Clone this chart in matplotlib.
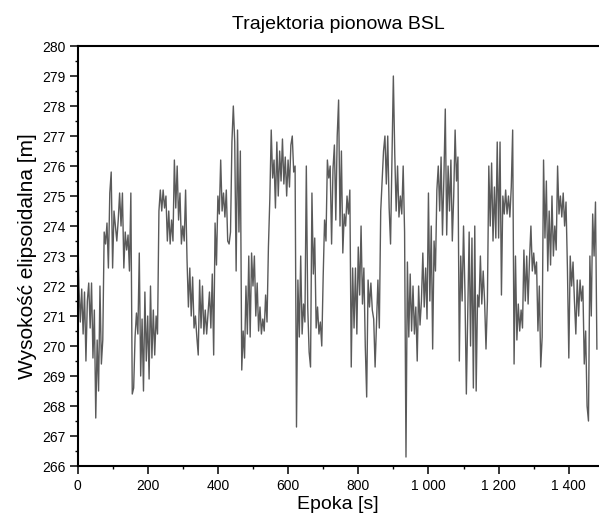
import numpy as np
import matplotlib
matplotlib.use("Agg")
import matplotlib.pyplot as plt
from matplotlib.ticker import MultipleLocator, FuncFormatter

plt.rcParams['font.family'] = ['Liberation Sans', 'DejaVu Sans']

# ── data: ellipsoidal height, one sample every 4 s ────────────────────────────
epoch_step = 4
h_0000 = [274.0, 272.0, 270.8, 271.9, 270.4, 271.8, 269.5, 271.5, 272.1, 270.6,
          272.1, 269.6, 271.2, 267.6, 270.2, 268.5, 272.0, 269.4, 270.2, 273.8,
          273.4, 274.1, 272.6, 275.1, 275.8]
h_0100 = [272.6, 274.5, 274.0, 273.5, 274.2, 275.1, 274.0, 275.1, 272.6, 273.8,
          273.2, 273.7, 272.5, 275.1, 268.4, 268.6, 270.3, 271.1, 270.4, 273.1,
          269.0, 270.9, 268.5, 271.8, 269.5]
h_0200 = [271.0, 268.9, 272.0, 269.6, 271.2, 269.7, 271.0, 270.4, 274.5, 275.2,
          274.5, 275.2, 274.6, 275.0, 273.5, 274.5, 273.4, 274.2, 273.5, 276.2,
          274.6, 276.0, 274.2, 275.1, 273.4]
h_0300 = [274.0, 273.5, 275.2, 272.9, 271.3, 272.6, 271.0, 272.3, 270.6, 271.0,
          270.3, 269.7, 272.2, 270.6, 272.0, 270.4, 271.2, 270.4, 271.1, 271.8,
          270.6, 272.4, 269.7, 274.1, 272.7]
h_0400 = [275.0, 274.4, 276.2, 274.5, 275.1, 274.3, 275.2, 273.5, 273.4, 273.8,
          276.8, 278.0, 276.8, 272.5, 277.2, 273.8, 276.5, 269.2, 270.5, 269.6,
          272.0, 270.4, 273.0, 270.3, 273.1]
h_0500 = [272.0, 273.0, 271.0, 272.1, 270.5, 271.3, 270.4, 270.9, 270.5, 271.7,
          270.8, 273.3, 274.9, 277.2, 275.6, 276.2, 274.6, 276.8, 275.0, 276.5,
          275.5, 276.9, 275.4, 276.3, 275.0]
h_0600 = [276.2, 275.3, 276.7, 277.0, 275.8, 276.0, 267.3, 272.2, 270.3, 273.0,
          270.4, 271.4, 270.8, 276.0, 271.3, 269.8, 269.3, 275.1, 272.4, 273.6,
          270.6, 271.3, 270.4, 270.8, 270.0]
h_0700 = [272.3, 274.2, 273.5, 276.2, 275.6, 276.0, 273.4, 275.9, 276.7, 274.2,
          277.0, 278.2, 274.0, 276.5, 273.1, 274.4, 274.0, 275.0, 274.4, 275.2,
          269.3, 272.6, 270.6, 272.6, 270.4]
h_0800 = [273.3, 271.7, 274.0, 271.4, 272.6, 270.0, 268.3, 272.2, 271.3, 272.1,
          271.2, 270.9, 269.3, 270.8, 272.2, 270.6, 274.5, 275.5, 276.5, 277.0,
          275.4, 277.0, 274.6, 273.4, 276.1]
h_0900 = [279.0, 276.4, 274.5, 276.0, 274.3, 275.0, 274.4, 276.0, 273.8, 266.3,
          272.8, 270.3, 272.4, 270.5, 272.0, 270.4, 271.3, 269.5, 272.0, 270.7,
          271.5, 273.1, 271.3, 272.6, 270.9]
h_1000 = [275.1, 271.5, 274.0, 269.9, 273.5, 272.5, 275.2, 276.0, 274.5, 276.3,
          273.7, 275.6, 277.9, 273.7, 276.0, 274.5, 276.2, 273.5, 275.0, 277.2,
          275.5, 276.3, 269.5, 273.0, 271.5]
h_1100 = [274.0, 271.8, 268.4, 271.0, 273.8, 270.0, 273.6, 268.6, 274.0, 268.5,
          271.7, 271.3, 273.0, 271.4, 272.5, 271.5, 269.9, 271.5, 276.0, 274.0,
          276.1, 273.5, 275.3, 273.6, 276.8]
h_1200 = [273.6, 276.8, 271.7, 275.0, 274.4, 275.2, 274.4, 275.0, 274.3, 275.3,
          277.2, 269.4, 273.0, 270.2, 271.4, 270.5, 271.2, 270.6, 273.2, 271.5,
          273.0, 271.4, 272.9, 274.0, 272.5]
h_1300 = [273.1, 272.4, 272.8, 270.5, 272.0, 269.3, 270.3, 276.2, 273.6, 275.5,
          272.5, 274.5, 272.7, 275.0, 273.0, 274.0, 273.2, 276.0, 274.4, 275.0,
          274.3, 275.1, 274.0, 274.8, 272.6]
h_1400 = [269.6, 273.0, 272.0, 272.8, 271.5, 270.4, 272.2, 271.0, 272.2, 271.5,
          272.0, 269.4, 270.5, 268.0, 267.5, 273.0, 271.0, 274.4, 273.0, 274.8,
          269.9]

height = np.concatenate([h_0000, h_0100, h_0200, h_0300, h_0400, h_0500, h_0600,
                         h_0700, h_0800, h_0900, h_1000, h_1100, h_1200, h_1300,
                         h_1400])
epoch = np.arange(len(height)) * epoch_step

# ── plot ──────────────────────────────────────────────────────────────────────
fig = plt.figure(figsize=(5.99, 5.17), dpi=100)
ax = fig.add_axes([0.1294, 0.0986, 0.8706, 0.8124])

ax.plot(epoch, height, color='#5a5a5a', lw=1.0)

ax.set_xlim(0, 1486)
ax.set_ylim(266, 280)

ax.xaxis.set_major_locator(MultipleLocator(200))
ax.xaxis.set_minor_locator(MultipleLocator(100))
ax.yaxis.set_major_locator(MultipleLocator(1))
ax.yaxis.set_minor_locator(MultipleLocator(0.5))
ax.xaxis.set_major_formatter(FuncFormatter(lambda v, p: f"{int(v):,}".replace(",", " ")))

ax.tick_params(which='major', direction='out', length=5.5, width=1.1,
               labelsize=10, pad=3)
ax.tick_params(which='minor', direction='out', length=2.5, width=1.0)
ax.tick_params(axis='x', which='major', pad=4)

for side in ['left', 'bottom', 'top']:
    ax.spines[side].set_linewidth(1.5)
ax.spines['right'].set_visible(False)

ax.set_title('Trajektoria pionowa BSL', fontsize=14, pad=12)
ax.set_xlabel('Epoka [s]', fontsize=14, labelpad=2)
ax.set_ylabel('Wysokość elipsoidalna [m]', fontsize=15, labelpad=4)

fig.savefig('out.png', dpi=100)
